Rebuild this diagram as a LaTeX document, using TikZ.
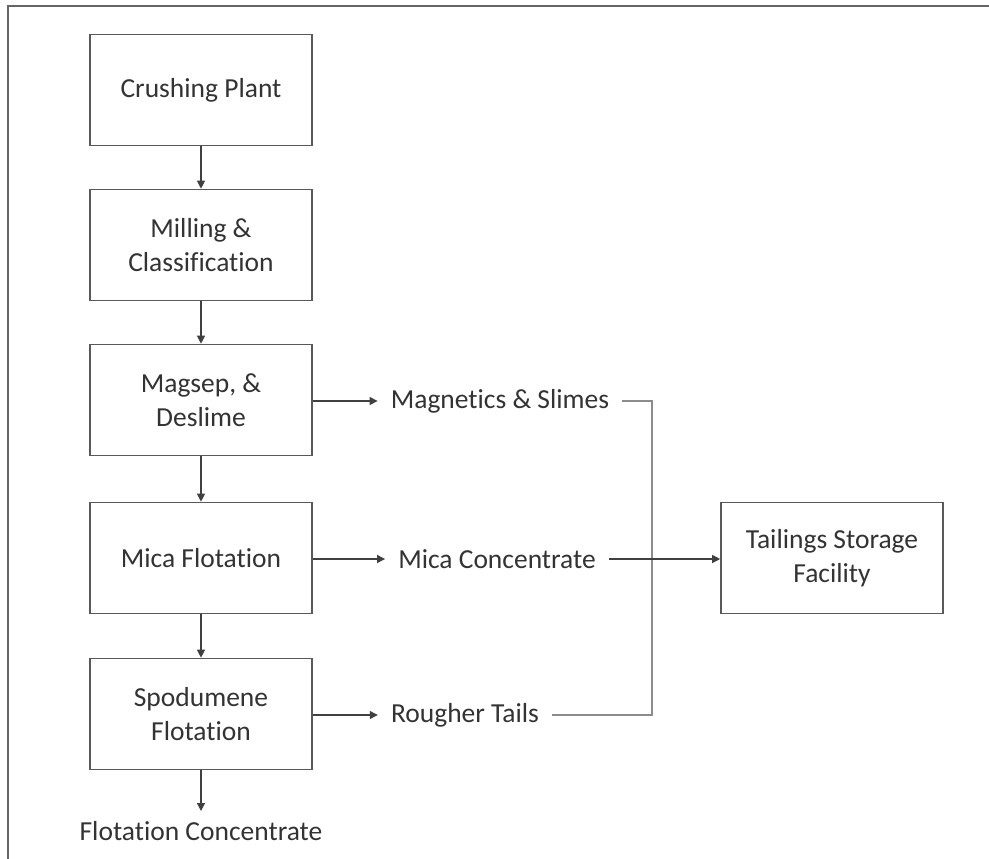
\documentclass[tikz,border=0pt]{standalone}
\usepackage{fontspec}
\setmainfont{Carlito}[RawFeature={-liga;-clig;-calt;-dlig}]
\usetikzlibrary{arrows.meta}
% keep t and i apart (no ligature)
\newcommand*\tisep{t\kern0pt i}

\tikzset{
  stagebox/.style={draw=black!65, line width=1.6pt, minimum width=222pt, minimum height=111pt,
    align=center, text=black!80, font=\fontsize{27.5}{34}\selectfont},
  flowlabel/.style={inner xsep=13pt, inner ysep=4pt, text=black!80, font=\fontsize{27.5}{34}\selectfont},
  flow/.style={draw=black!75, line width=1.2pt, -{Triangle[length=8pt,width=8pt]}},
  busline/.style={draw=black!45, line width=1.5pt}
}

\begin{document}
\begin{tikzpicture}[x=1pt,y=-1pt]
 \useasboundingbox (0,0) rectangle (989,859);
 % frame
 \draw[black!60, line width=2pt] (8,859) -- (8,6) -- (989,6);

 % process stages
 \node[stagebox] (crush) at (201,90) {Crushing Plant};
 \node[stagebox] (mill) at (201,245) {Milling \&\\Classifica\tisep on};
 \node[stagebox] (magsep) at (201,400) {Magsep, \&\\Deslime};
 \node[stagebox] (mica) at (201,558) {Mica Flota\tisep on};
 \node[stagebox] (spod) at (201,714) {Spodumene\\Flota\tisep on};
 \node[stagebox] (tsf) at (832,558) {Tailings Storage\\Facility};

 % products
 \node[flowlabel] (magsl) at (500,401) {Magne\tisep cs \& Slimes};
 \node[flowlabel] (micac) at (497,559) {Mica Concentrate};
 \node[flowlabel] (rough) at (465,715) {Rougher Tails};
 \node[flowlabel, anchor=north, inner ysep=10pt] (flotc) at (201,811) {Flota\tisep on Concentrate};

 \draw[flow] (crush) -- (mill);
 \draw[flow] (mill) -- (magsep);
 \draw[flow] (magsep) -- (mica);
 \draw[flow] (mica) -- (spod);
 \draw[flow] (spod) -- (flotc);

 \draw[flow] (magsep.east |- magsl) -- (magsl);
 \draw[flow] (mica.east |- micac) -- (micac);
 \draw[flow] (spod.east |- rough) -- (rough);

 % tailings bus
 \coordinate (bustop) at (652,401);
 \coordinate (busbot) at (652,715);
 \draw[busline] (magsl.east) -- (bustop) -- (busbot) -- (rough.east);
 \draw[flow] (micac.east) -- (tsf.west |- micac);

\end{tikzpicture}
\end{document}
